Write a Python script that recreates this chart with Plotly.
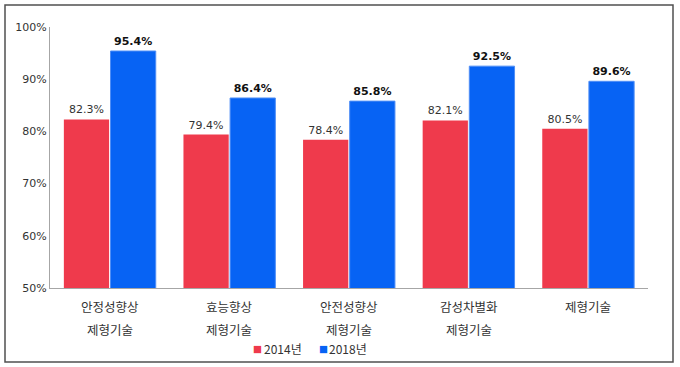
import plotly.graph_objects as go

category_line1 = ["안정성향상", "효능향상", "안전성향상", "감성차별화", "제형기술"]
category_line2 = ["제형기술", "제형기술", "제형기술", "제형기술", ""]
series_names = ["2014년", "2018년"]
values_2014 = [82.3, 79.4, 78.4, 82.1, 80.5]
values_2018 = [95.4, 86.4, 85.8, 92.5, 89.6]
y_ticks = [50, 60, 70, 80, 90, 100]
y_tick_text = [f"{v}%" for v in y_ticks]

KR = "Noto Sans CJK KR"
NUM = "DejaVu Sans"
RED = "#EF3A4C"
BLUE = "#0763F4"
colors = [RED, BLUE]

cats = category_line1


def px_x(px):
    return (px - 50) / 598


def px_y(py):
    return (288 - py) / 261


fig = go.Figure()
fig.add_trace(go.Bar(
    x=cats, y=values_2014, name=series_names[0],
    marker=dict(color=RED, line=dict(width=0)),
    text=[f"{v:.1f}%" for v in values_2014], textposition="outside",
    textfont=dict(family=NUM, size=11, color="#333333"),
    cliponaxis=False, showlegend=False,
))
fig.add_trace(go.Bar(
    x=cats, y=values_2018, name=series_names[1],
    marker=dict(color=BLUE, line=dict(width=1, color="#4F8EF6")),
    text=[f"<b>{v:.1f}%</b>" for v in values_2018], textposition="outside",
    textfont=dict(family=NUM, size=11, color="#111111"),
    cliponaxis=False, showlegend=False,
))

annotations = []
for c, l1, l2 in zip(cats, category_line1, category_line2):
    annotations.append(dict(x=c, y=0, xref="x", yref="paper", text=l1, showarrow=False,
                            yanchor="middle", yshift=-18,
                            font=dict(family=KR, size=12.5, color="#333333")))
    if l2:
        annotations.append(dict(x=c, y=0, xref="x", yref="paper", text=l2, showarrow=False,
                                yanchor="middle", yshift=-41,
                                font=dict(family=KR, size=12.5, color="#333333")))

# legend (square swatch + label)
legend_sq_x = [257, 323]
legend_txt_x = [262, 327]
for name, col, sx, tx in zip(series_names, colors, legend_sq_x, legend_txt_x):
    annotations.append(dict(x=px_x(sx), y=px_y(348), xref="paper", yref="paper", text="■",
                            showarrow=False, xanchor="center", yanchor="middle",
                            font=dict(family=NUM, size=9.5, color=col)))
    annotations.append(dict(x=px_x(tx), y=px_y(348), xref="paper", yref="paper", text=name,
                            showarrow=False, xanchor="left", yanchor="middle",
                            font=dict(family=KR, size=12, color="#333333")))

fig.update_layout(
    width=680, height=367,
    margin=dict(l=50, r=32, t=27, b=79, autoexpand=False),
    paper_bgcolor="white", plot_bgcolor="white",
    barmode="group", bargap=0.22, bargroupgap=0.03,
    font=dict(family=KR, size=12, color="#333333"),
    showlegend=False,
    xaxis=dict(showline=True, linecolor="#A6A6A6", linewidth=1, ticks="",
               showticklabels=False, showgrid=False, automargin=False),
    yaxis=dict(range=[50, 100], tickvals=y_ticks, ticktext=y_tick_text, showline=True,
               linecolor="#A6A6A6", linewidth=1, ticks="", showgrid=False, zeroline=False,
               automargin=False,
               tickfont=dict(family=NUM, size=11, color="#333333")),
    annotations=annotations,
    shapes=[dict(type="rect", xref="paper", yref="paper",
                 x0=px_x(5), x1=px_x(673),
                 y0=px_y(362), y1=px_y(5),
                 line=dict(color="#505050", width=1.5), fillcolor="rgba(0,0,0,0)")],
)

fig.write_html("out.html", config={"displayModeBar": False},
               post_script="document.body.style.margin='0';")
